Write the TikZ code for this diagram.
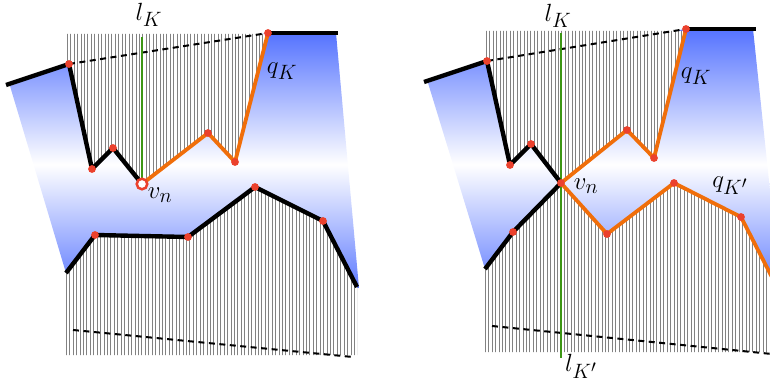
\documentclass[tikz,border=0pt]{standalone}
\definecolor{bl}{RGB}{85,115,255}
\definecolor{orng}{RGB}{240,110,10}
\definecolor{reddot}{RGB}{235,65,45}
\definecolor{grn}{RGB}{60,150,20}
\definecolor{hatchc}{RGB}{130,130,130}
\begin{document}
\begin{tikzpicture}[x=1pt,y=-1pt,
  blk/.style={line width=4.4pt, black, line join=round},
  org/.style={line width=3.8pt, orng, line join=round},
  dline/.style={line width=2pt, dash pattern=on 6pt off 4.5pt},
  hline/.style={hatchc, line width=1pt},
  gline/.style={grn, line width=2.8pt},
  lbl/.style={font=\Huge, inner sep=0pt},
  dot/.style={fill=reddot},
  blueshade/.style={top color=bl, bottom color=bl, middle color=white}
]
\clip (0,0) rectangle (770,382);
% ---------- left panel coordinates
\coordinate (A1) at (6,85);   \coordinate (A2) at (69,64);
\coordinate (A3) at (92,169); \coordinate (A4) at (113,148);
\coordinate (V)  at (142,184);
\coordinate (O1) at (208,133); \coordinate (O2) at (235,162);
\coordinate (T)  at (268,33);  \coordinate (T2) at (338,33);
\coordinate (B1) at (66,273);  \coordinate (B2) at (95,235);
\coordinate (B3) at (188,237); \coordinate (B4) at (255,187);
\coordinate (B5) at (323,221); \coordinate (B6) at (357,287);
\coordinate (Gt) at (142,37);
\coordinate (Dl1) at (73,330); \coordinate (Dl2) at (353,357);
% ---------- right panel coordinates
\coordinate (C1) at (424,82);  \coordinate (C2) at (487,61);
\coordinate (C3) at (510,165); \coordinate (C4) at (531,144);
\coordinate (W)  at (561,183);
\coordinate (P1) at (627,130); \coordinate (P2) at (654,158);
\coordinate (U)  at (686,29);  \coordinate (U2) at (756,29);
\coordinate (D1) at (485,269); \coordinate (D2) at (513,232);
\coordinate (Q1) at (607,234); \coordinate (Q2) at (674,183);
\coordinate (Q3) at (741,217); \coordinate (Q4) at (776,285);
\coordinate (Ht) at (561,33);  \coordinate (Hb) at (561,358);
\coordinate (Dr1) at (492,326); \coordinate (Dr2) at (772,354);
% ---------- blue regions
\begin{scope}
  \clip (10,86) -- (A2) -- (T) -- (336,33) -- (359,288) -- (B1) -- cycle;
  \shade[blueshade] (0,33) rectangle (385,296);
\end{scope}
\begin{scope}
  \clip (428,83) -- (C2) -- (U) -- (753,29) -- (781,295) -- (D1) -- cycle;
  \shade[blueshade] (385,29) rectangle (790,300);
\end{scope}
% ---------- hatched regions
\begin{scope}
  \clip (67,34) -- (268,34) -- (O2) -- (O1) -- (V) -- (A4) -- (A3) -- (A2) -- (67,64) -- cycle;
  \fill[white] (60,20) rectangle (280,200);
  \foreach \i in {0,...,60} \draw[hline] ({67.4+\i*3.43},20) -- ({67.4+\i*3.43},200);
\end{scope}
\begin{scope}
  \clip (B1) -- (B2) -- (B3) -- (B4) -- (B5) -- (B6) -- (357,355) -- (66,355) -- cycle;
  \fill[white] (60,180) rectangle (365,360);
  \foreach \i in {0,...,86} \draw[hline] ({66.4+\i*3.43},180) -- ({66.4+\i*3.43},360);
\end{scope}
\begin{scope}
  \clip (486,31) -- (686,31) -- (P2) -- (P1) -- (W) -- (C4) -- (C3) -- (C2) -- (486,61) -- cycle;
  \fill[white] (480,20) rectangle (700,200);
  \foreach \i in {0,...,60} \draw[hline] ({486.4+\i*3.43},20) -- ({486.4+\i*3.43},200);
\end{scope}
\begin{scope}
  \clip (D1) -- (D2) -- (W) -- (Q1) -- (Q2) -- (Q3) -- (Q4) -- (776,352) -- (485,352) -- cycle;
  \fill[white] (480,175) rectangle (780,360);
  \foreach \i in {0,...,86} \draw[hline] ({485.4+\i*3.43},175) -- ({485.4+\i*3.43},360);
\end{scope}
% ---------- dashed lines
\draw[dline] (A2) -- (T);
\draw[dline] (Dl1) -- (Dl2);
\draw[dline] (C2) -- (U);
\draw[dline] (Dr1) -- (Dr2);
% ---------- green lines
\draw[gline] (Gt) -- (V);
\draw[gline] (Ht) -- (Hb);
% ---------- chains
\draw[blk] (A1) -- (A2) -- (A3) -- (A4) -- (V);
\draw[blk] (T) -- (T2);
\draw[blk] (B1) -- (B2) -- (B3) -- (B4) -- (B5) -- (B6);
\draw[org] (V) -- (O1) -- (O2) -- (T);
\draw[blk] (C1) -- (C2) -- (C3) -- (C4) -- (W);
\draw[blk] (U) -- (U2);
\draw[blk] (D1) -- (D2) -- (W);
\draw[org] (W) -- (P1) -- (P2) -- (U);
\draw[org] (W) -- (Q1) -- (Q2) -- (Q3) -- (Q4);
% ---------- dots
\foreach \p in {A2,A3,A4,O1,O2,T,B2,B3,B4,B5,C2,C3,C4,W,P1,P2,U,D2,Q1,Q2,Q3}
  \fill[dot] (\p) circle[radius=3.9pt];
\draw[reddot, fill=white, line width=2.5pt] (V) circle[radius=5.3pt];
% ---------- labels
\node[lbl] (lK1) at (149,15) {$l_K$};
\node[lbl] (qK1) at (282,71) {$q_K$};
\node[lbl] (vn1) at (160,195) {$v_n$};
\node[lbl] (lK2) at (558,16) {$l_K$};
\node[lbl] (qK2) at (696,76) {$q_K$};
\node[lbl] (vn2) at (586,186) {$v_n$};
\node[lbl] (qK3) at (730,186) {$q_{K'}$};
\node[lbl] (lK3) at (581,366) {$l_{K'}$};
\end{tikzpicture}
\end{document}
